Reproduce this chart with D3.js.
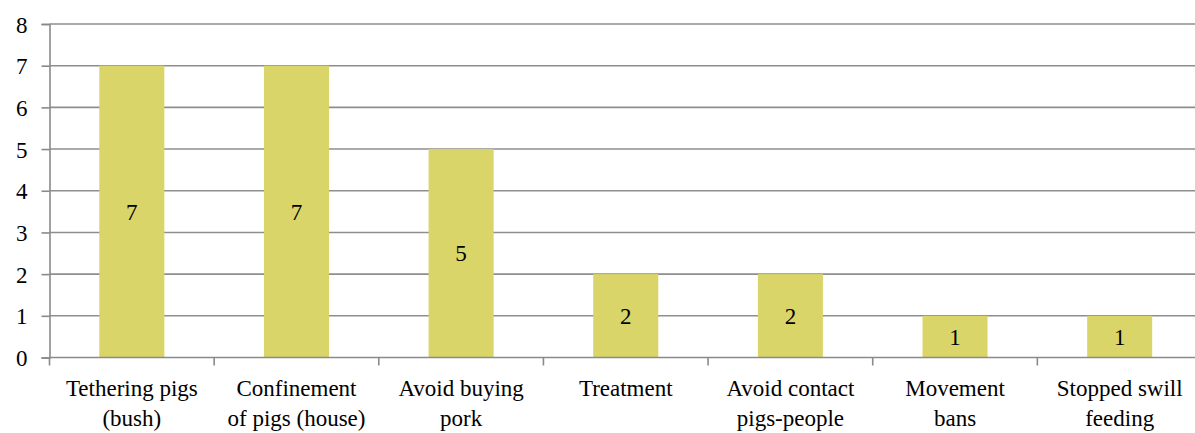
<html>
<head>
<meta charset="utf-8">
<script src="https://cdn.jsdelivr.net/npm/d3@7"></script>
</head>
<body style="margin:0;background:#fff">
<svg id="chart" width="1195" height="433" style="display:block"></svg>
<script>
// Control measures reported, with the number of respondents for each
const categories = [
  ["Tethering pigs", "(bush)"],
  ["Confinement", "of pigs (house)"],
  ["Avoid buying", "pork"],
  ["Treatment"],
  ["Avoid contact", "pigs-people"],
  ["Movement", "bans"],
  ["Stopped swill", "feeding"]
];
const counts = [7, 7, 5, 2, 2, 1, 1];
const yTicks = [0, 1, 2, 3, 4, 5, 6, 7, 8];

const FONT = `"Liberation Serif", "Times New Roman", Times, serif`;

const svg = d3.select("#chart");
const plotLeft = 49.5, plotRight = 1202, plotTop = 24, plotBottom = 357.5;

const keys = categories.map(c => c.join(" "));
const x = d3.scaleBand().domain(keys).range([plotLeft, plotRight]).paddingInner(0.605).paddingOuter(0.3025);
const y = d3.scaleLinear().domain([0, 8]).range([plotBottom, plotTop]);

// horizontal gridlines
svg.append("g")
  .selectAll("line")
  .data(yTicks.filter(t => t > 0))
  .join("line")
  .attr("x1", plotLeft).attr("x2", plotRight)
  .attr("y1", d => y(d)).attr("y2", d => y(d))
  .attr("stroke", "#8e8e8e").attr("stroke-width", 1.6);

// bars
svg.append("g")
  .selectAll("rect")
  .data(counts)
  .join("rect")
  .attr("x", (d, i) => x(keys[i]))
  .attr("width", x.bandwidth())
  .attr("y", d => y(d))
  .attr("height", d => y(0) - y(d))
  .attr("fill", "#d9d568");

// value labels in the middle of each bar
svg.append("g")
  .selectAll("text")
  .data(counts)
  .join("text")
  .attr("x", (d, i) => x(keys[i]) + x.bandwidth() / 2)
  .attr("y", d => (y(d) + y(0)) / 2 + 8)
  .attr("text-anchor", "middle")
  .style("font-family", FONT)
  .style("font-size", "23px")
  .style("fill", "#000")
  .text(d => d);

// y axis
const yAxis = d3.axisLeft(y).tickValues(yTicks).tickSize(8).tickPadding(14).tickFormat(d3.format("d"));
const gy = svg.append("g")
  .attr("transform", `translate(${plotLeft},0)`)
  .call(yAxis)
  .attr("font-family", FONT)
  .attr("font-size", 23);
gy.select(".domain").attr("stroke", "#8a8a8a").attr("stroke-width", 1.6);
gy.selectAll(".tick line").attr("stroke", "#8a8a8a").attr("stroke-width", 1.6);
gy.selectAll(".tick text")
  .attr("dy", null)
  .attr("y", 8)
  .style("font-family", FONT)
  .style("font-size", "23px")
  .style("fill", "#000");

// x axis baseline with ticks at category boundaries
const step = x.step();
const bounds = d3.range(categories.length + 1).map(i => plotLeft + i * step);
svg.append("line")
  .attr("x1", plotLeft).attr("x2", plotRight)
  .attr("y1", plotBottom).attr("y2", plotBottom)
  .attr("stroke", "#8a8a8a").attr("stroke-width", 1.6);
svg.append("g")
  .selectAll("line")
  .data(bounds)
  .join("line")
  .attr("x1", d => d).attr("x2", d => d)
  .attr("y1", plotBottom).attr("y2", plotBottom + 8)
  .attr("stroke", "#8a8a8a").attr("stroke-width", 1.6);

// category labels, wrapped over two lines
const labels = svg.append("g")
  .selectAll("text")
  .data(categories)
  .join("text")
  .attr("text-anchor", "middle")
  .style("font-family", FONT)
  .style("font-size", "23px")
  .style("fill", "#000")
  .attr("transform", (d, i) => `translate(${x(keys[i]) + x.bandwidth() / 2},0)`);
labels.selectAll("tspan")
  .data(d => d)
  .join("tspan")
  .attr("x", 0)
  .attr("y", (d, j) => 396 + j * 30)
  .text(d => d);
</script>
</body>
</html>
